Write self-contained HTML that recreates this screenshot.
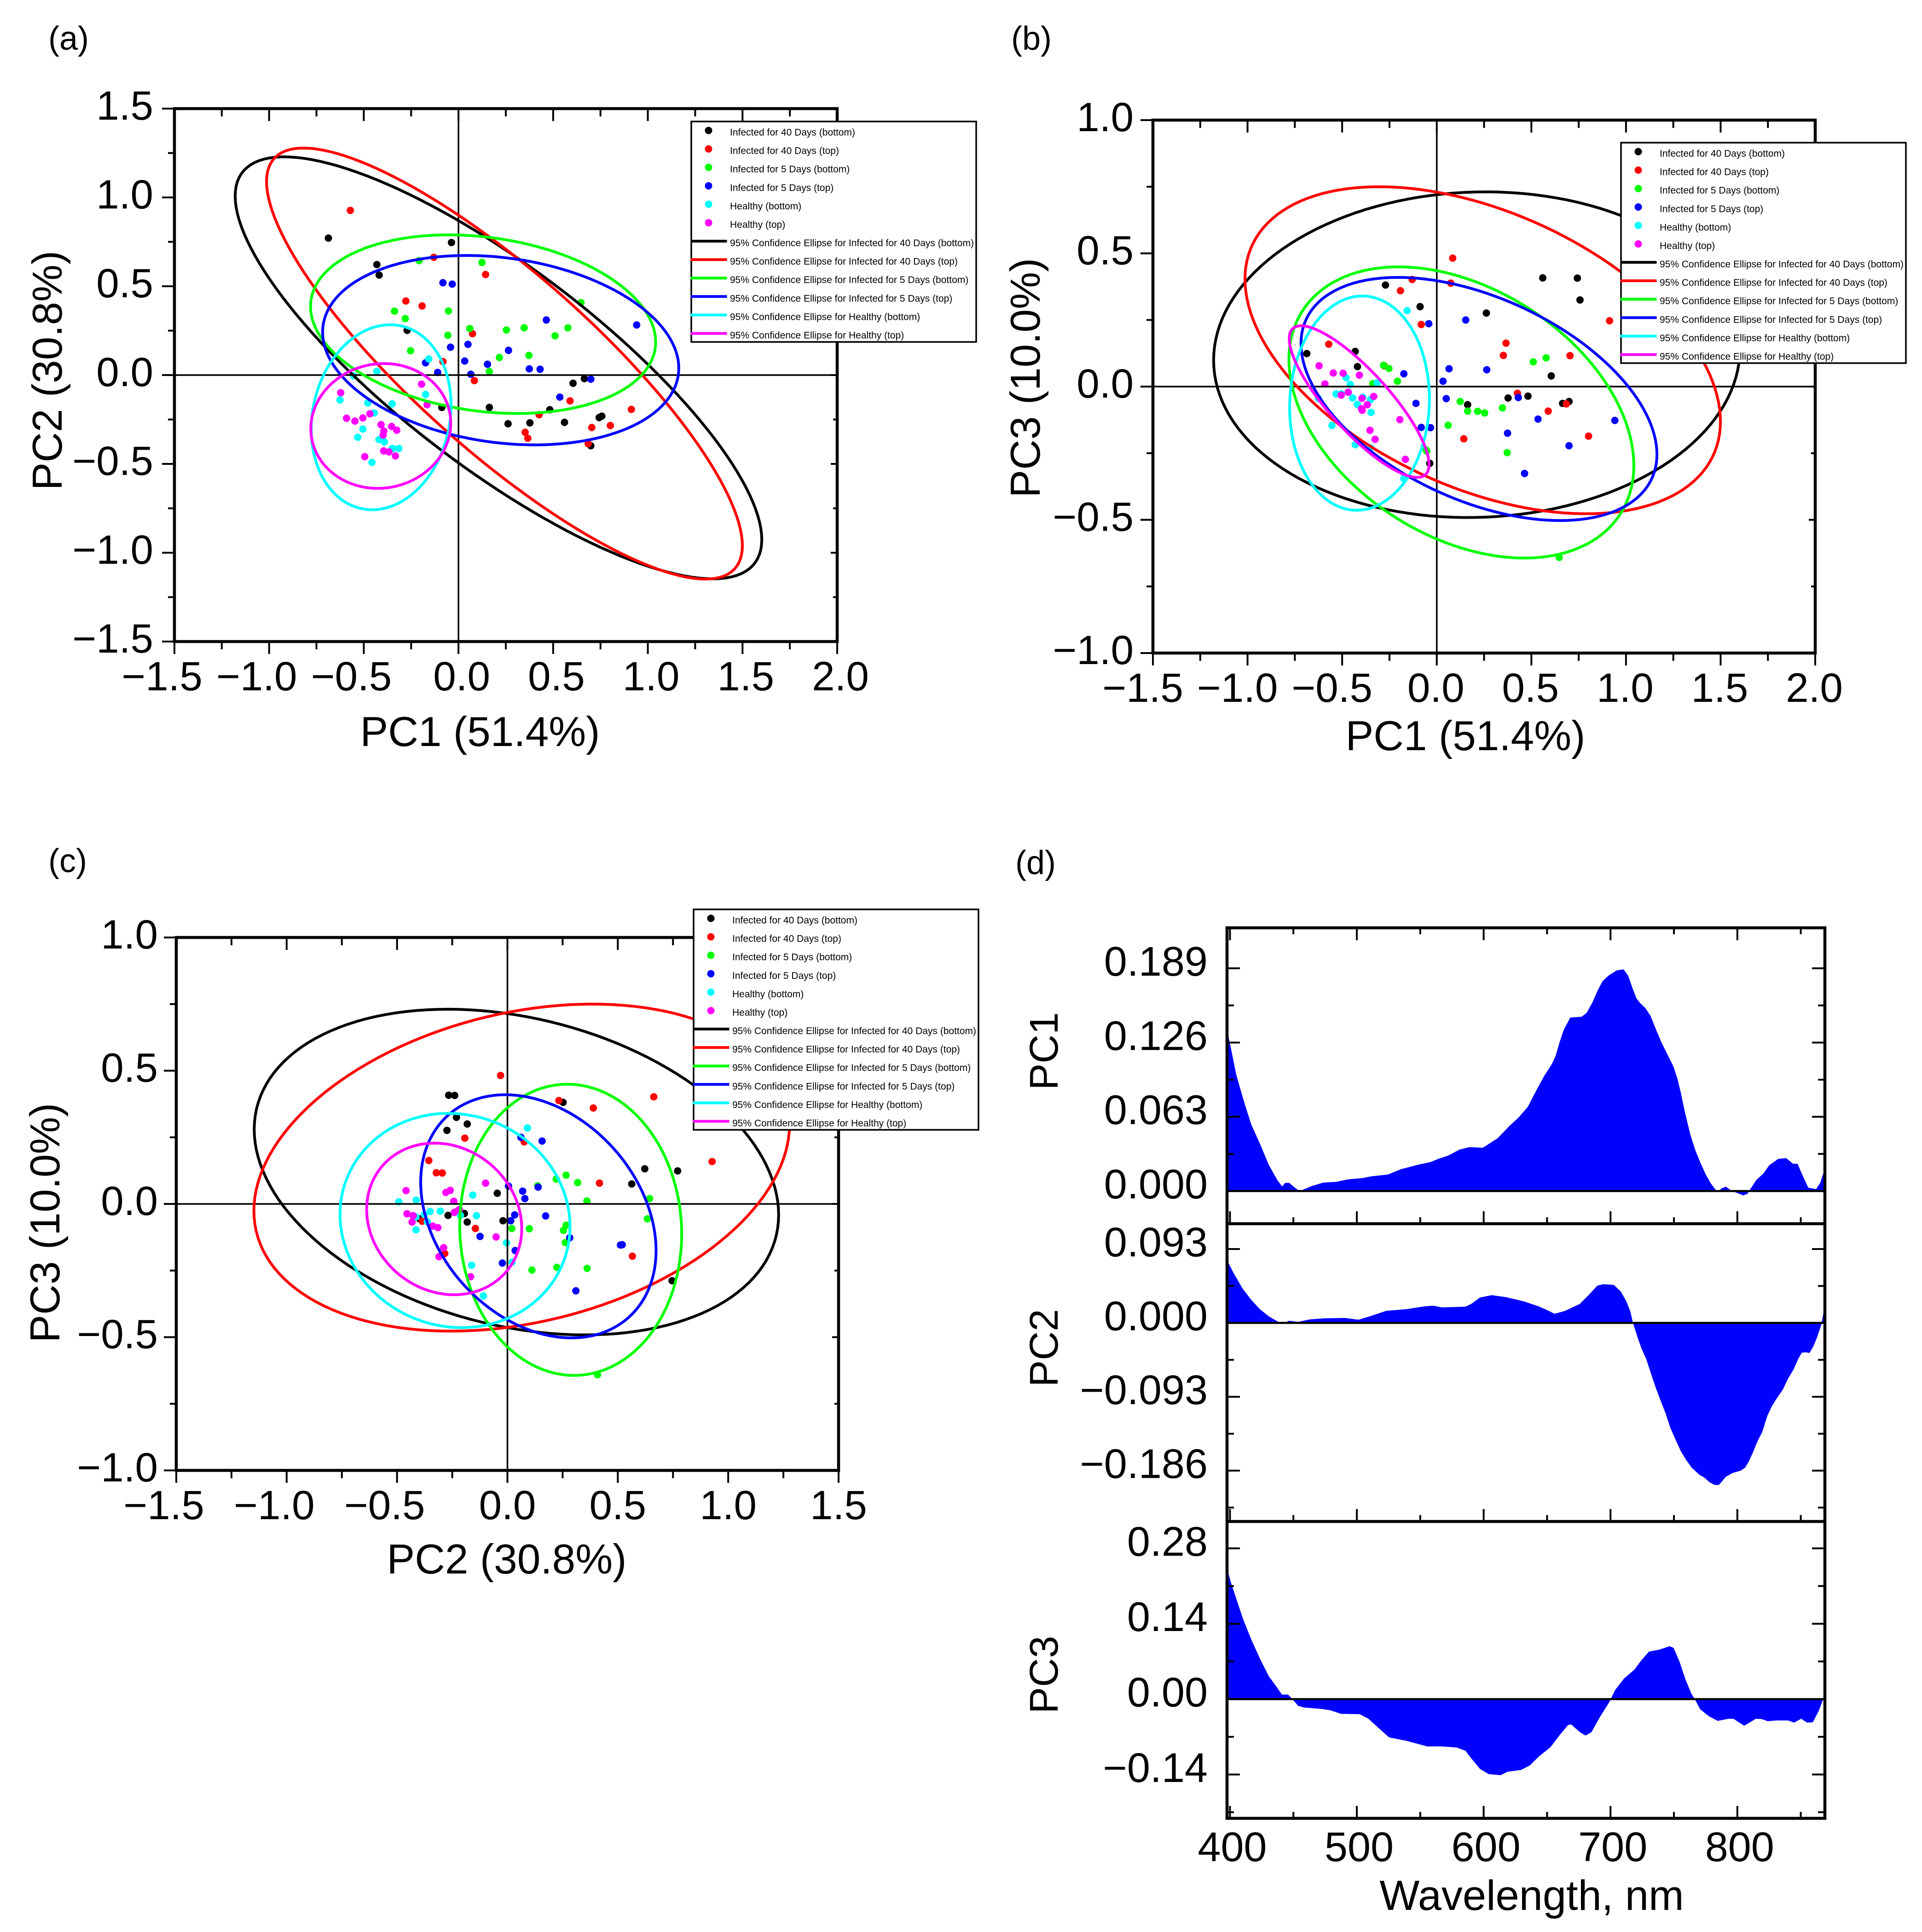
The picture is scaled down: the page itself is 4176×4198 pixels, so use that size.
<!DOCTYPE html>
<html lang="en">
<head>
<meta charset="utf-8">
<title>PCA score plots and loadings</title>
<style>
html,body{margin:0;padding:0;background:#fff;}
svg{display:block;}
text{font-family:"Liberation Sans",Arial,sans-serif;fill:#000;}
</style>
</head>
<body>
<svg id="figure" xmlns="http://www.w3.org/2000/svg" width="4176" height="4198" viewBox="0 0 4176 4198">
<rect x="0" y="0" width="4176" height="4198" fill="#fff"/>
</svg>
<script>
// ---- Scores ----
const groupNames = ["Infected for 40 Days (bottom)", "Infected for 40 Days (top)", "Infected for 5 Days (bottom)", "Infected for 5 Days (top)", "Healthy (bottom)", "Healthy (top)"];
const groupColors = ["#000000", "#ff0000", "#00ff00", "#0000ff", "#00ffff", "#ff00ff"];

const infected40BottomPc1 = [-.687,-.037,-.431,-.419,-.271,.665,.605,-.088,.163,.482,.262,.377,.560,.743,.757,.699];
const infected40BottomPc2 = [.771,.746,.622,.563,.252,-.020,-.046,-.182,-.182,-.195,-.274,-.269,-.266,-.239,-.231,-.398];
const infected40BottomPc3 = [.124,-.288,.132,.075,.381,-.063,.040,.300,-.068,-.036,.276,-.043,.408,.407,.325,-.056];

const infected40TopPc1 = [-.571,-.130,.143,-.278,-.192,.074,-.082,.084,.589,.913,.426,.704,.802,.352,.366,.685];
const infected40TopPc2 = [.927,.663,.566,.417,.389,.233,.076,-.031,-.145,-.193,-.223,-.295,-.284,-.322,-.356,-.386];
const infected40TopPc3 = [.159,.402,-.196,.078,.360,.388,.233,.482,-.092,.247,-.025,.116,-.186,.117,.163,-.065];

const infected5BottomPc1 = [-.208,.124,.647,-.338,-.281,-.053,.060,-.056,.253,.347,.510,.578,-.253,.216,.372,.163];
const infected5BottomPc2 = [.644,.634,.408,.360,.318,.361,.262,.224,.254,.266,.221,.266,.137,.099,.111,.020];
const infected5BottomPc3 = [.020,-.056,-.641,.011,.080,-.242,-.145,-.238,-.099,-.080,.093,.108,.068,-.093,-.248,-.092];

const infected5TopPc1 = [-.082,-.033,.464,.941,.264,.050,-.042,.033,-.174,.153,-.110,.065,.374,.431,.699,.535];
const infected5TopPc2 = [.520,.512,.310,.282,.139,.173,.157,.079,.069,.061,.015,.005,.035,.033,-.023,-.124];
const infected5TopPc3 = [-.153,-.154,-.326,-.127,.063,-.045,.236,.020,.048,.250,-.063,.067,-.175,-.041,-.222,-.122];

const healthyBottomPc1 = [-.431,-.157,-.174,-.626,-.479,-.350,-.445,-.505,-.532,-.420,-.391,-.347,-.350,-.315,-.457,-.554];
const healthyBottomPc2 = [.021,.091,-.109,-.140,-.157,-.162,-.213,-.304,-.350,-.363,-.376,-.414,-.414,-.413,-.492,-.004];
const healthyBottomPc3 = [-.218,.285,-.345,-.044,.033,-.230,-.043,-.027,-.028,-.067,-.040,-.097,-.049,.014,.008,-.146];

const healthyTopPc1 = [-.195,-.622,-.166,-.591,-.547,-.505,-.468,-.409,-.353,-.326,-.394,-.398,-.395,-.367,-.333,-.495];
const healthyTopPc2 = [-.051,-.099,-.167,-.243,-.259,-.241,-.218,-.279,-.289,-.310,-.315,-.338,-.427,-.432,-.455,-.459];
const healthyTopPc3 = [-.124,.078,-.273,.010,.051,-.032,-.021,.043,-.164,-.198,-.089,-.083,-.044,-.068,-.037,.050];

// ---- Tick values ----
const pc1Ticks = [-1.5,-1.0,-0.5,0.0,0.5,1.0,1.5,2.0];
const pc2AxisTicks = [-1.5,-1.0,-0.5,0.0,0.5,1.0,1.5];
const pc3AxisTicks = [-1.0,-0.5,0.0,0.5,1.0];
const wavelengthTicks = [400,500,600,700,800];
const wavelengthMinorTicks = [450,550,650,750,850];
const loadingPc1Ticks = [0.189,0.126,0.063,0.000];
const loadingPc1Minor = [0.1575,0.0945,0.0315];
const loadingPc2Ticks = [0.093,0.000,-0.093,-0.186];
const loadingPc2Minor = [0.0465,-0.0465,-0.1395,-0.2325];
const loadingPc3Ticks = [0.28,0.14,0.00,-0.14];
const loadingPc3Minor = [0.21,0.07,-0.07,-0.21];

// ---- Loadings ----
const loadingPc1Wavelength = [397,400.5,405,410.6,416.7,423.6,430.5,437.5,441.2,443.5,446.7,450,453.7,456.9,465.2,473.6,483.8,493,504.6,511.5,524.5,534.7,548.5,557.8,564.7,571.7,581,588.8,599.4,611,620.3,627.7,634.8,639.5,643.4,647.8,653.7,656.8,660,663.1,668.3,677.3,681.2,685.9,689.9,693.8,698.5,704.8,710.3,713.9,717.1,720.5,723.7,727.6,731.6,736.3,740.2,744.1,749.6,752.8,755.2,759.1,763,766.9,770.9,774.8,778.8,782.7,785,787.4,791,795.3,800,804.7,807.9,811,815,820.5,825.2,832.2,838.5,844,847.5,851.1,855.9,862.1,865.3,867.7,868.8];
const loadingPc1Values = [.1403,.1224,.0985,.0776,.0567,.0403,.0224,.009,.0039,.0069,.0069,.0039,.0009,.0009,.0045,.0072,.0078,.0099,.011,.0125,.014,.0185,.0224,.0245,.0275,.0299,.0352,.0373,.0367,.0448,.0552,.0626,.0714,.0813,.0892,.0978,.1077,.1149,.1268,.1367,.1472,.1479,.1512,.1604,.1703,.1782,.1828,.1872,.1881,.1828,.1729,.1634,.1591,.1551,.1485,.136,.1261,.1176,.1057,.0952,.0846,.0648,.0477,.0345,.024,.0148,.0069,.0013,-.0004,.0022,.0037,.0003,-.0017,-.0037,-.0024,.0029,.0095,.0148,.022,.0273,.0279,.0231,.0231,.0141,.0029,.0016,.0069,.0148,.0187];

const loadingPc2Wavelength = [398,402.8,409.7,416.7,423.6,430.5,437.5,441,446.7,453.7,463,474.5,490.7,501.3,511.5,523,539.3,553.2,560,567,585.6,590.2,597.1,606.4,618,631.9,643.4,650.4,655.9,664.2,675.8,682.7,689.7,694.3,702.6,708.2,712.8,715.7,717.7,721,724.4,728.2,732.5,735.8,739.2,743.2,747.2,751.2,755.3,759.3,764,770,774,778.1,782.1,785.5,790.9,796.2,802.9,806.3,809,812.3,815.7,819.7,823.7,827.1,830.4,835.8,839.8,844.5,847.9,850.8,853.9,856.9,860,862.7,866,867.4,868];
const loadingPc2Values = [.078,.0629,.0439,.0292,.0173,.0084,.0018,-.0013,.0027,.0013,.0044,.0058,.0062,.004,.0089,.0151,.0173,.0208,.0217,.0195,.0204,.0239,.0319,.035,.0323,.027,.0208,.0159,.0115,.0151,.0239,.035,.047,.0487,.0478,.0394,.0261,.014,0,-.0167,-.0321,-.0456,-.0668,-.0822,-.0966,-.113,-.1322,-.1467,-.1611,-.1717,-.1823,-.191,-.1948,-.2006,-.204,-.204,-.1938,-.189,-.1858,-.1819,-.1746,-.1631,-.1496,-.1371,-.1168,-.1053,-.0966,-.0841,-.0706,-.0581,-.0456,-.0375,-.037,-.0379,-.0293,-.0187,-.0033,.0083,.014];

const loadingPc3Wavelength = [396.8,400.5,405,410.6,416.7,423.6,430.5,437.5,441,445.8,449,453.7,458.3,472.2,479.1,487.5,502.3,509.2,516.1,525.4,539.3,555.5,567,578.6,585.6,590.2,597.1,604,613.3,618.9,629.5,636.5,643.4,652.7,659.6,666.5,668.9,675.8,680.4,685,692,699,703.6,710.5,718.8,724.4,730.4,738.3,746.6,749.8,754.5,759.1,763.7,767,770.7,777.6,784.5,792.9,797,805.4,814.6,819.3,823.9,830.8,840,844.7,850.3,854.9,859.5,864.1,867.8,869.6];
const loadingPc3Values = [.2513,.2187,.1862,.1471,.1113,.0755,.043,.0202,.0085,.0085,.0007,-.0124,-.0156,-.0182,-.0208,-.0273,-.028,-.0365,-.0514,-.071,-.0775,-.0879,-.0879,-.0898,-.0957,-.11,-.1296,-.1393,-.1413,-.1348,-.1315,-.123,-.1068,-.0892,-.0677,-.0482,-.0469,-.0612,-.0677,-.0612,-.0319,-.0059,.0169,.0378,.0547,.0723,.0885,.0918,.0983,.095,.069,.0365,.0104,-.0026,-.0189,-.0319,-.0404,-.0365,-.0365,-.0495,-.0365,-.0371,-.041,-.0397,-.0397,-.0436,-.0365,-.0436,-.043,-.0221,.0007,.0137];

const pc1Series = [infected40BottomPc1, infected40TopPc1, infected5BottomPc1, infected5TopPc1, healthyBottomPc1, healthyTopPc1];
const pc2Series = [infected40BottomPc2, infected40TopPc2, infected5BottomPc2, infected5TopPc2, healthyBottomPc2, healthyTopPc2];
const pc3Series = [infected40BottomPc3, infected40TopPc3, infected5BottomPc3, infected5TopPc3, healthyBottomPc3, healthyTopPc3];

const SVG_NS = "http://www.w3.org/2000/svg";
const root = document.getElementById("figure");

function make(tag, parent) {
  const el = document.createElementNS(SVG_NS, tag);
  parent.appendChild(el);
  return el;
}
function line(parent, x1, y1, x2, y2, width, color, name) {
  const el = make("line", parent);
  el.setAttribute("x1", x1);
  el.setAttribute("y1", y1);
  el.setAttribute("x2", x2);
  el.setAttribute("y2", y2);
  el.setAttribute("stroke", color);
  el.setAttribute("stroke-width", width);
  
  
  return el;
}
function label(parent, str, x, y, size, anchor, name, rotate) {
  const el = make("text", parent);
  el.setAttribute("x", x);
  el.setAttribute("y", y);
  el.setAttribute("font-size", size);
  el.setAttribute("text-anchor", anchor);
  if (rotate) el.setAttribute("transform", "rotate(-90 " + x + " " + y + ")");
  el.textContent = str;
  
  
  return el;
}
function fmt(v, d) {
  return (v < 0 ? "\u2212" : "") + Math.abs(v).toFixed(d);
}
function linear(d0, d1, p0, p1) {
  return function (v) { return p0 + (v - d0) / (d1 - d0) * (p1 - p0); };
}
// 95% prediction ellipse computed from the group's scores
function ellipseOutline(xs, ys) {
  const n = xs.length;
  const mx = xs.reduce(function (a, b) { return a + b; }, 0) / n;
  const my = ys.reduce(function (a, b) { return a + b; }, 0) / n;
  let sxx = 0, syy = 0, sxy = 0;
  for (let i = 0; i < n; i++) {
    sxx += (xs[i] - mx) * (xs[i] - mx);
    syy += (ys[i] - my) * (ys[i] - my);
    sxy += (xs[i] - mx) * (ys[i] - my);
  }
  sxx /= n - 1; syy /= n - 1; sxy /= n - 1;
  const k = Math.sqrt(2 * (n * n - 1) / (n * (n - 2)) * 3.739);
  const l11 = Math.sqrt(sxx);
  const l21 = sxy / l11;
  const l22 = Math.sqrt(Math.max(syy - l21 * l21, 1e-9));
  const out = [];
  for (let t = 0; t < 144; t++) {
    const a = t / 144 * 2 * Math.PI;
    const u = k * Math.cos(a), v = k * Math.sin(a);
    out.push([mx + l11 * u, my + l21 * u + l22 * v]);
  }
  return out;
}

function scatterPanel(cfg) {
  const g = make("g", root);
  
  
  const sx = linear(cfg.xDomain[0], cfg.xDomain[1], cfg.left, cfg.right);
  const sy = linear(cfg.yDomain[0], cfg.yDomain[1], cfg.bottom, cfg.top);

  label(g, cfg.letter, cfg.letterX, cfg.letterY, 72, "start", "panel-label");

  // points
  for (let s = 0; s < groupNames.length; s++) {
    const xs = cfg.xSeries[s], ys = cfg.ySeries[s];
    for (let i = 0; i < xs.length; i++) {
      const dot = make("circle", g);
      dot.setAttribute("cx", sx(xs[i]).toFixed(1));
      dot.setAttribute("cy", sy(ys[i]).toFixed(1));
      dot.setAttribute("r", 8);
      dot.setAttribute("fill", groupColors[s]);
      
      
    }
  }
  // zero lines
  line(g, sx(0), cfg.top, sx(0), cfg.bottom, 3.5, "#000", "zero-line-vertical");
  line(g, cfg.left, sy(0), cfg.right, sy(0), 3.5, "#000", "zero-line-horizontal");
  // ellipses
  for (let s = 0; s < groupNames.length; s++) {
    const pts = ellipseOutline(cfg.xSeries[s], cfg.ySeries[s]);
    const poly = make("polygon", g);
    poly.setAttribute("points", pts.map(function (p) { return sx(p[0]).toFixed(1) + "," + sy(p[1]).toFixed(1); }).join(" "));
    poly.setAttribute("fill", "none");
    poly.setAttribute("stroke", groupColors[s]);
    poly.setAttribute("stroke-width", 6);
    
    
  }
  // frame
  const frame = make("rect", g);
  frame.setAttribute("x", cfg.left);
  frame.setAttribute("y", cfg.top);
  frame.setAttribute("width", cfg.right - cfg.left);
  frame.setAttribute("height", cfg.bottom - cfg.top);
  frame.setAttribute("fill", "none");
  frame.setAttribute("stroke", "#000");
  frame.setAttribute("stroke-width", 6.5);
  
  

  // x ticks
  cfg.xTicks.forEach(function (v, i) {
    const px = sx(v);
    line(g, px, cfg.bottom, px, cfg.bottom + 27, 4, "#000", "x-tick");
    line(g, px, cfg.top, px, cfg.top + 27, 4, "#000", "x-tick-top");
    const shift = v < 0 ? cfg.xNegShift : cfg.xPosShift;
    label(g, fmt(v, 1), px + shift, cfg.bottom + 106, 89, "middle", "x-tick-label");
    if (i < cfg.xTicks.length - 1) {
      const mid = sx((v + cfg.xTicks[i + 1]) / 2);
      line(g, mid, cfg.bottom, mid, cfg.bottom + 17, 4, "#000", "x-minor-tick");
      line(g, mid, cfg.top, mid, cfg.top + 17, 4, "#000", "x-minor-tick-top");
    }
  });
  // y ticks
  cfg.yTicks.forEach(function (v, i) {
    const py = sy(v);
    line(g, cfg.left - 27, py, cfg.left, py, 4, "#000", "y-tick");
    line(g, cfg.right - 14, py, cfg.right, py, 4, "#000", "y-tick-right");
    label(g, fmt(v, 1), cfg.left - cfg.yLabelGap, py + 24, 89, "end", "y-tick-label");
    if (i < cfg.yTicks.length - 1) {
      const mid = sy((v + cfg.yTicks[i + 1]) / 2);
      line(g, cfg.left - 14, mid, cfg.left, mid, 4, "#000", "y-minor-tick");
      line(g, cfg.right - 9, mid, cfg.right, mid, 4, "#000", "y-minor-tick-right");
    }
  });
  label(g, cfg.xTitle, cfg.xTitleX, cfg.xTitleY, 91, "middle", "x-axis-title");
  label(g, cfg.yTitle, cfg.yTitleX, cfg.yTitleY, 91, "middle", "y-axis-title", true);

  // legend
  const lg = make("g", g);
  
  
  const box = make("rect", lg);
  box.setAttribute("x", cfg.legendX);
  box.setAttribute("y", cfg.legendY);
  box.setAttribute("width", 619);
  box.setAttribute("height", 479);
  box.setAttribute("fill", "#fff");
  box.setAttribute("stroke", "#000");
  box.setAttribute("stroke-width", 3.5);
  
  
  for (let s = 0; s < groupNames.length; s++) {
    const rowY = cfg.legendY + 19.5 + s * 40.1;
    const m = make("circle", lg);
    m.setAttribute("cx", cfg.legendX + 37.5);
    m.setAttribute("cy", rowY);
    m.setAttribute("r", 8);
    m.setAttribute("fill", groupColors[s]);
    
    
    label(lg, groupNames[s], cfg.legendX + 84, rowY + 11, 21, "start", "legend-entry");
  }
  for (let s = 0; s < groupNames.length; s++) {
    const rowY = cfg.legendY + 260 + s * 40.1;
    line(lg, cfg.legendX - 1.5, rowY, cfg.legendX + 77.5, rowY, 6, groupColors[s], "legend-line");
    label(lg, "95% Confidence Ellipse for " + groupNames[s], cfg.legendX + 84, rowY + 11, 21, "start", "legend-entry");
  }
}

scatterPanel({
  name: "panel-a", letter: "(a)", letterX: 105, letterY: 108,
  left: 379, right: 1819, top: 236, bottom: 1394,
  xDomain: [-1.5, 2.0], yDomain: [-1.5, 1.5],
  xSeries: pc1Series, ySeries: pc2Series,
  xTicks: pc1Ticks, yTicks: pc2AxisTicks,
  xNegShift: -27, xPosShift: 7, yLabelGap: 46,
  xTitle: "PC1 (51.4%)", xTitleX: 1043, xTitleY: 1621,
  yTitle: "PC2 (30.8%)", yTitleX: 134, yTitleY: 805,
  legendX: 1502, legendY: 264
});
scatterPanel({
  name: "panel-b", letter: "(b)", letterX: 2197, letterY: 108,
  left: 2505, right: 3944, top: 261, bottom: 1419,
  xDomain: [-1.5, 2.0], yDomain: [-1.0, 1.0],
  xSeries: pc1Series, ySeries: pc3Series,
  xTicks: pc1Ticks, yTicks: pc3AxisTicks,
  xNegShift: -22, xPosShift: -2, yLabelGap: 42,
  xTitle: "PC1 (51.4%)", xTitleX: 3184, xTitleY: 1630,
  yTitle: "PC3 (10.0%)", yTitleX: 2259, yTitleY: 821,
  legendX: 3522, legendY: 310
});
scatterPanel({
  name: "panel-c", letter: "(c)", letterX: 105, letterY: 1895,
  left: 383, right: 1822, top: 2037, bottom: 3195,
  xDomain: [-1.5, 1.5], yDomain: [-1.0, 1.0],
  xSeries: pc2Series, ySeries: pc3Series,
  xTicks: pc2AxisTicks, yTicks: pc3AxisTicks,
  xNegShift: -27, xPosShift: 0, yLabelGap: 40,
  xTitle: "PC2 (30.8%)", xTitleX: 1101, xTitleY: 3419,
  yTitle: "PC3 (10.0%)", yTitleX: 129, yTitleY: 2657,
  legendX: 1507, legendY: 1976
});

// ---- Panel (d): loadings ----
const panelD = make("g", root);


label(panelD, "(d)", 2206, 1899, 72, "start", "panel-label");

const dLeft = 2666, dRight = 3965;
const waveX = linear(400, 500, 2672.4, 2948);

function loadingPlot(cfg) {
  const g = make("g", panelD);
  
  
  const sy = function (v) { return cfg.zeroY - v * cfg.scale; };
  const pts = [[waveX(cfg.wave[0]), cfg.zeroY]];
  for (let i = 0; i < cfg.values.length; i++) {
    pts.push([waveX(cfg.wave[i]), sy(cfg.values[i])]);
  }
  pts.push([waveX(cfg.wave[cfg.wave.length - 1]), cfg.zeroY]);
  const area = make("polygon", g);
  area.setAttribute("points", pts.map(function (p) { return p[0].toFixed(1) + "," + p[1].toFixed(1); }).join(" "));
  area.setAttribute("fill", "#0000ff");
  
  
  line(g, dLeft, cfg.zeroY, dRight, cfg.zeroY, 4.5, "#000", "zero-line");
  cfg.ticks.forEach(function (v) {
    line(g, dLeft, sy(v), dLeft + 28, sy(v), 4, "#000", "y-tick");
    line(g, dRight - 28, sy(v), dRight, sy(v), 4, "#000", "y-tick-right");
    label(g, fmt(v, cfg.decimals), 2624, sy(v) + 16, 90, "end", "y-tick-label");
  });
  cfg.minor.forEach(function (v) {
    line(g, dLeft, sy(v), dLeft + 15, sy(v), 4, "#000", "y-minor-tick");
    line(g, dRight - 15, sy(v), dRight, sy(v), 4, "#000", "y-minor-tick-right");
  });
  label(g, cfg.title, 2298, cfg.titleY, 87, "middle", "y-axis-title", true);
}

loadingPlot({ name: "loading-plot-pc1", wave: loadingPc1Wavelength, values: loadingPc1Values, zeroY: 2588, scale: 2561, ticks: loadingPc1Ticks, minor: loadingPc1Minor, decimals: 3, title: "PC1", titleY: 2284 });
loadingPlot({ name: "loading-plot-pc2", wave: loadingPc2Wavelength, values: loadingPc2Values, zeroY: 2874.5, scale: 1726, ticks: loadingPc2Ticks, minor: loadingPc2Minor, decimals: 3, title: "PC2", titleY: 2929 });
loadingPlot({ name: "loading-plot-pc3", wave: loadingPc3Wavelength, values: loadingPc3Values, zeroY: 3692, scale: 1170, ticks: loadingPc3Ticks, minor: loadingPc3Minor, decimals: 2, title: "PC3", titleY: 3639 });

// frame and dividers
const dFrame = make("rect", panelD);
dFrame.setAttribute("x", dLeft);
dFrame.setAttribute("y", 2016);
dFrame.setAttribute("width", dRight - dLeft);
dFrame.setAttribute("height", 3951 - 2016);
dFrame.setAttribute("fill", "none");
dFrame.setAttribute("stroke", "#000");
dFrame.setAttribute("stroke-width", 6.5);


line(panelD, dLeft, 2659, dRight, 2659, 6.5, "#000", "panel-divider");
line(panelD, dLeft, 3306, dRight, 3306, 6.5, "#000", "panel-divider");

// x ticks along the top and each lower edge
const tickEdges = [[2016, 1], [2659, -1], [3306, -1], [3951, -1]];
tickEdges.forEach(function (edge) {
  wavelengthTicks.forEach(function (w) {
    line(panelD, waveX(w), edge[0], waveX(w), edge[0] + edge[1] * 27, 4, "#000", "x-tick");
  });
  wavelengthMinorTicks.forEach(function (w) {
    line(panelD, waveX(w), edge[0], waveX(w), edge[0] + edge[1] * 14, 4, "#000", "x-minor-tick");
  });
});
wavelengthTicks.forEach(function (w) {
  label(panelD, String(w), waveX(w) + 5, 4044, 90, "middle", "x-tick-label");
});
label(panelD, "Wavelength, nm", 3328, 4150, 92, "middle", "x-axis-title");
</script>
</body>
</html>
